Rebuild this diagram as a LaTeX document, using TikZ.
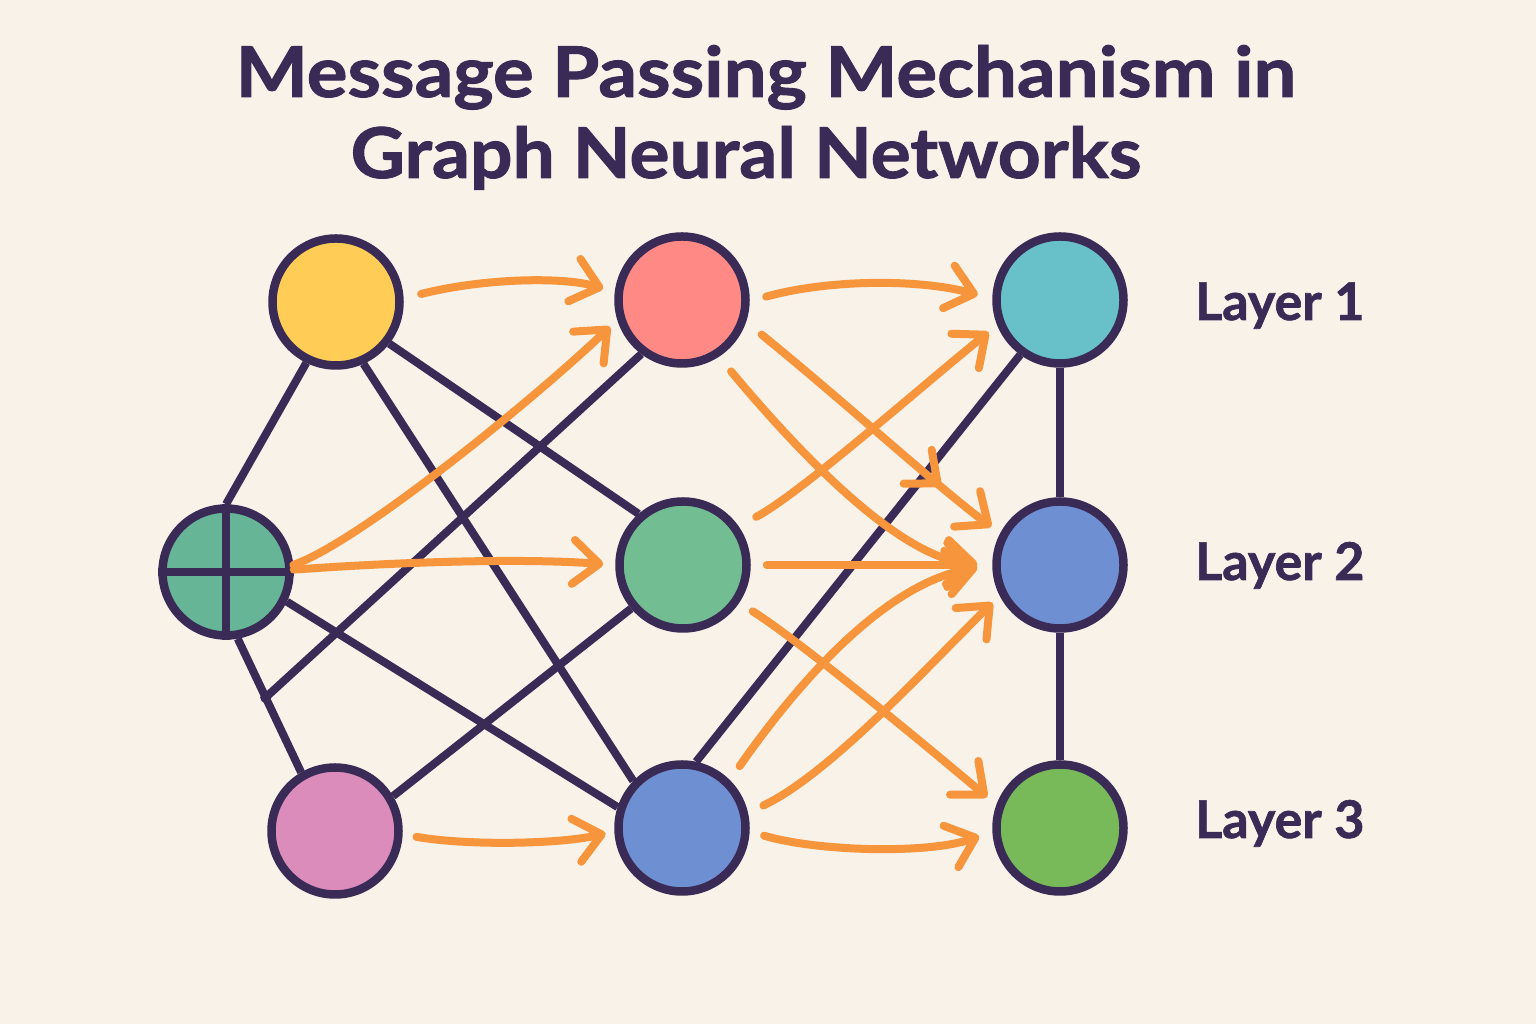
\documentclass[tikz,border=0pt]{standalone}
\usepackage{fontspec}
\setmainfont{Lato}
\newfontfamily\heavy{Lato}[FakeBold=1.3]
\usetikzlibrary{arrows.meta,decorations.markings,calc}
\definecolor{bg}{HTML}{F9F2E8}
\definecolor{ink}{HTML}{3A2A56}
\definecolor{msgc}{HTML}{F7953C}
\definecolor{cyel}{HTML}{FFCD55}
\definecolor{cred}{HTML}{FF8A85}
\definecolor{ccyan}{HTML}{68C0C9}
\definecolor{cgreenA}{HTML}{66B596}
\definecolor{cgreenB}{HTML}{72BE92}
\definecolor{cblue}{HTML}{6F8FD3}
\definecolor{cpink}{HTML}{DB8CBA}
\definecolor{cgreenC}{HTML}{78B95A}
\pgfdeclarelayer{bgl}
\pgfsetlayers{bgl,main}
\begin{document}
\begin{tikzpicture}[x=1pt,y=1pt,
  nd/.style={circle, draw=ink, line width=8.5pt, minimum size=127pt, inner sep=0pt},
  link/.style={draw=ink, line width=8pt},
  msg/.style={draw=msgc, line width=8pt, line cap=round, -{Straight Barb[length=26pt,width=44pt,round]}},
  lbl/.style={text=ink, font=\heavy\bfseries\fontsize{52}{60}\selectfont, anchor=base west, inner sep=0pt},
  ttl/.style={text=ink, font=\heavy\bfseries\fontsize{70}{80}\selectfont, anchor=base, inner sep=0pt},
  midtip/.style={postaction={decorate}, decoration={markings, mark=at position #1 with {\arrow{Straight Barb[length=26pt,width=44pt,round]}}}}
]
\useasboundingbox (0,0) rectangle (1536,1024);

% nodes
\node[nd, fill=cyel] (y) at (336,722) {};
\node[nd, fill=cred] (r) at (682,724) {};
\node[nd, fill=ccyan] (cy) at (1060,724) {};
\node[nd, fill=cgreenA] (gl) at (226,452) {};
\node[nd, fill=cgreenB] (gm) at (683,459) {};
\node[nd, fill=cblue] (br) at (1060,459) {};
\node[nd, fill=cpink] (pk) at (335,193) {};
\node[nd, fill=cblue] (bm) at (682,196) {};
\node[nd, fill=cgreenC] (gr) at (1060,196) {};

\coordinate (j) at ($(gl.-80)!0.44!(pk.120)$);

\begin{pgfonlayer}{bgl}
\fill[bg] (0,0) rectangle (1536,1024);
\draw[link] (y.244) -- (gl.north);
\draw[link] (y.-66) -- (bm.136);
\draw[link] (y.-38) -- (gm.131);
\draw[link] (r.233) -- (j);
\draw[link] (gl.-80) -- (pk.120);
\draw[link] (gl.-26) -- (bm.162);
\draw[link] (pk.31) -- (gm.220);
\draw[link] (bm.78) -- (cy.234);
\draw[link] (cy) -- (br);
\draw[link] (br) -- (gr);
\end{pgfonlayer}
\fill[ink] (j) circle (5.5pt);

% cross in the left node
\draw[link] (gl.north) -- (gl.south);
\draw[link] (gl.west) -- (gl.east);

% messages
\draw[msg, shorten <=18pt, shorten >=12pt] (y.3) .. controls (480,745) and (560,748) .. (r.173);
\draw[msg, shorten >=10pt] (gl.6) .. controls (360,482) and (540,630) .. (r.197);
\draw[msg, shorten >=12pt] (gl.2) .. controls (400,462) and (520,466) .. (gm.180);
\draw[msg, shorten <=14pt, shorten >=9pt] (pk.-3) .. controls (470,178) and (560,180) .. (bm.183);
\draw[msg, shorten <=17pt, shorten >=15pt] (r.-1) .. controls (830,745) and (920,745) .. (cy.179);
\draw[msg, midtip=0.77, shorten <=20pt, shorten >=11pt] (r.-19) .. controls (840,626) and (940,535) .. (br.152);
\draw[msg, shorten <=19pt, shorten >=15pt] (r.-57) .. controls (800,570) and (900,465) .. (br.180);
\draw[msg, shorten <=20pt, shorten >=11pt] (gm.35) .. controls (800,530) and (930,645) .. (cy.202);
\draw[msg, shorten <=16pt, shorten >=15pt] (gm.0) -- (br.180);
\draw[msg, shorten <=16pt, shorten >=12pt] (gm.-34) .. controls (800,383) and (930,275) .. (gr.160);
\draw[msg, shorten <=17pt, shorten >=15pt] (bm.45) .. controls (790,330) and (880,440) .. (br.180);
\draw[msg, shorten <=17pt, shorten >=10pt] (bm.13) .. controls (830,250) and (930,360) .. (br.207);
\draw[msg, shorten <=15pt, shorten >=14pt] (bm.-3) .. controls (820,172) and (930,170) .. (gr.183);

% titles
\node[ttl] (t1) at (766,927) {\scalebox{1.09}[1]{Message Passing Mechanism in}};
\node[ttl] (t2) at (746,846) {\scalebox{1.07}[1]{Graph Neural Networks}};

% layer labels
\node[lbl] (l1) at (1195,704) {Layer 1};
\node[lbl] (l2) at (1195,444) {Layer 2};
\node[lbl] (l3) at (1195,186) {Layer 3};
\end{tikzpicture}
\end{document}
